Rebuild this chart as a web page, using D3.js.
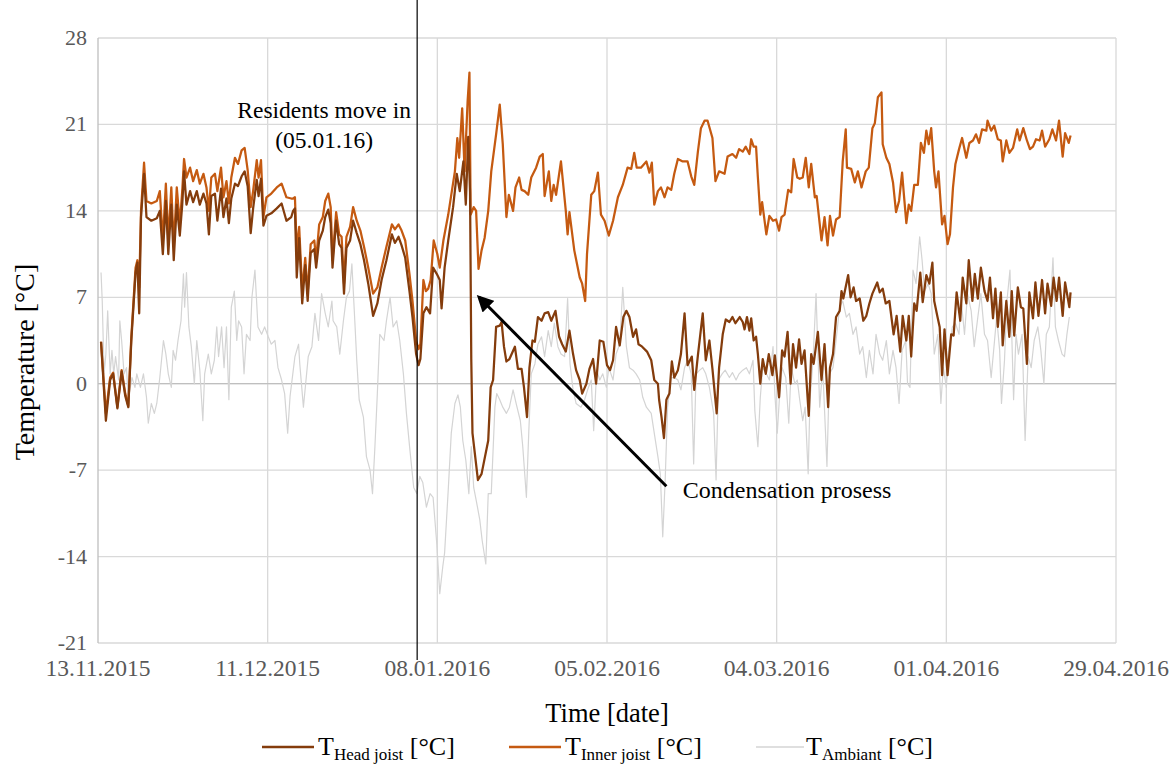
<!DOCTYPE html>
<html>
<head>
<meta charset="utf-8">
<script src="https://cdn.jsdelivr.net/npm/d3@7"></script>
<style>
  body { margin: 0; background: white; }
  text { font-family: "Liberation Serif", "Times New Roman", serif; }
</style>
</head>
<body>
<div id="container"></div>
<script>
let w = 1176;
let h = 765;

//x axis: one tick every 4 weeks
let xTickLabels = ["13.11.2015", "11.12.2015", "08.01.2016", "05.02.2016", "04.03.2016", "01.04.2016", "29.04.2016"];
let yTicks = [-21, -14, -7, 0, 7, 14, 21, 28];
let startLabel = "13.11.2015"; //day 0 of the series below
let moveInLabel = "05.01.2016";

//[days since 13.11.2015, temperature °C]
let headJoist = [
  [0.5,3.4],[1.3,-3.0],[2.0,0.3],[2.5,0.8],[3.2,-2.0],[3.9,1.0],[4.5,-1.0],[5.0,-1.9],[5.5,3.5],[6.2,9.0],
  [6.5,9.8],[6.8,5.7],[7.1,13.5],[7.6,17.0],[8.0,13.5],[8.8,13.2],[9.7,13.4],[10.2,14.0],[10.7,10.5],[11.2,14.8],
  [11.6,10.5],[12.1,14.5],[12.5,10.0],[13.0,14.5],[13.5,12.0],[13.9,14.5],[14.2,17.2],[14.6,14.5],[15.2,15.6],[15.7,14.7],
  [16.3,15.6],[16.8,14.5],[17.4,15.4],[17.9,14.6],[18.3,12.1],[18.7,15.2],[19.3,15.4],[19.7,13.2],[20.3,15.8],[20.7,13.5],
  [21.2,15.0],[21.6,13.0],[22.0,15.0],[22.6,16.2],[23.1,16.0],[23.7,16.8],[24.2,17.2],[24.7,16.0],[25.2,12.2],[25.6,14.2],
  [26.2,16.5],[26.5,15.2],[26.9,16.6],[27.3,12.8],[27.8,13.6],[28.6,13.8],[29.5,14.2],[30.3,14.6],[31.1,13.2],[31.9,13.5],
  [32.2,14.0],[32.5,14.2],[32.8,8.6],[33.2,11.8],[33.7,6.5],[34.2,9.6],[34.6,6.7],[35.1,10.6],[35.7,10.9],[36.0,9.4],
  [36.5,11.6],[37.1,12.4],[37.5,13.5],[38.0,14.1],[38.4,13.0],[38.7,9.4],[39.3,13.2],[39.8,11.3],[40.2,11.0],[40.6,7.3],
  [41.0,11.0],[41.6,11.6],[42.1,13.2],[42.7,12.2],[43.3,11.3],[43.9,10.0],[44.6,8.1],[45.4,5.5],[46.1,6.5],[46.8,8.4],
  [47.6,10.0],[48.5,12.1],[49.0,11.4],[49.6,11.9],[50.1,11.2],[50.7,10.2],[51.4,7.5],[51.9,5.4],[52.5,2.4],[52.9,1.5],
  [53.2,2.0],[53.7,5.7],[54.2,6.2],[54.8,5.7],[55.3,9.4],[55.9,8.9],[56.4,8.4],[56.7,6.1],[57.2,9.4],[57.8,11.6],
  [58.6,14.3],[59.2,17.0],[59.7,15.6],[60.3,18.0],[60.7,14.5],[61.1,20.0],[61.4,15.5],[61.6,2.0],[61.8,-4.0],[62.7,-7.8],
  [63.3,-7.3],[64.4,-4.6],[64.8,-0.3],[65.2,0.3],[65.7,4.6],[66.3,4.7],[66.6,5.0],[67.0,3.0],[67.4,1.8],[67.9,2.0],
  [68.8,3.0],[69.3,1.2],[69.9,1.2],[70.3,-0.3],[70.8,-2.7],[71.2,1.3],[71.7,3.5],[72.1,3.4],[72.6,5.4],[73.2,5.1],
  [73.7,5.7],[74.3,5.8],[74.8,5.1],[75.5,5.9],[76.1,3.8],[76.6,3.2],[77.2,2.6],[77.8,4.3],[78.4,2.4],[78.9,1.1],
  [79.5,0.3],[79.9,-0.8],[80.6,0.0],[81.1,1.2],[81.7,2.0],[82.2,0.0],[82.8,3.5],[83.4,3.4],[84.0,1.5],[84.5,1.1],
  [85.0,1.9],[85.5,4.6],[86.1,3.1],[86.7,5.4],[87.2,5.9],[87.7,5.4],[88.3,3.8],[88.8,4.4],[89.2,3.2],[89.8,3.0],
  [90.6,2.6],[91.3,1.9],[91.8,0.3],[92.4,0.0],[92.6,-1.3],[93.0,-2.7],[93.4,-4.4],[93.8,-1.3],[94.3,-0.8],[94.7,1.8],
  [95.1,0.5],[95.7,1.1],[96.2,2.4],[96.8,5.7],[97.3,1.5],[98.0,2.2],[98.4,-0.5],[99.0,2.3],[99.8,5.7],[100.3,1.9],
  [100.9,3.5],[101.4,1.2],[102.1,-2.4],[102.5,1.3],[103.1,4.0],[103.6,5.2],[104.2,5.0],[104.7,5.4],[105.2,4.9],[105.9,5.4],
  [106.4,5.0],[106.7,4.4],[107.1,5.4],[107.5,4.3],[107.8,5.3],[108.2,3.5],[108.6,3.8],[108.9,2.4],[109.3,0.0],[109.7,2.0],
  [110.2,0.8],[110.7,2.4],[111.3,0.7],[111.7,2.3],[112.4,-1.1],[112.9,2.7],[113.3,2.2],[113.8,4.2],[114.3,0.0],[114.7,3.2],
  [115.2,1.3],[115.7,3.6],[116.1,1.6],[116.6,2.7],[117.3,-2.6],[117.7,2.4],[118.1,1.6],[118.8,4.2],[119.4,0.3],[119.9,3.2],
  [120.5,-1.9],[120.8,1.3],[121.3,2.4],[121.8,5.4],[122.4,5.9],[122.7,7.5],[123.0,6.9],[123.8,8.8],[124.2,7.0],[124.7,7.8],
  [125.1,6.7],[125.7,6.9],[126.3,5.1],[126.8,5.5],[127.3,6.5],[127.8,7.3],[128.6,8.2],[129.0,7.4],[129.5,7.7],[130.0,6.5],
  [130.6,6.7],[131.3,4.0],[131.8,5.5],[132.4,2.6],[132.8,5.5],[133.4,3.5],[133.8,5.5],[134.2,2.2],[134.7,6.5],[135.1,5.9],
  [135.7,9.0],[136.1,6.6],[136.7,8.8],[137.2,8.1],[137.7,9.8],[138.0,6.7],[138.5,5.5],[138.9,4.6],[139.3,0.7],[139.7,4.4],
  [140.2,0.7],[140.8,4.0],[141.2,3.9],[141.7,7.4],[142.3,5.1],[142.7,8.6],[143.3,6.5],[143.7,10.0],[144.3,6.7],[144.7,8.9],
  [145.2,6.9],[145.7,9.4],[146.3,7.5],[146.8,6.7],[147.2,8.6],[147.7,5.3],[148.1,7.7],[148.5,4.6],[149.0,7.4],[149.3,3.1],
  [149.9,6.7],[150.4,3.8],[150.8,7.5],[151.2,3.9],[151.8,7.8],[152.3,6.2],[152.7,6.1],[153.3,1.6],[153.7,7.4],[154.3,5.3],
  [154.7,8.2],[155.2,5.5],[155.8,8.4],[156.3,5.7],[156.7,8.1],[157.3,6.3],[157.7,8.6],[158.2,6.7],[158.6,8.6],[159.2,5.5],
  [159.6,8.2],[160.3,6.2],[160.5,7.4]
];

let innerJoist = [
  [0.5,3.4],[1.3,-2.4],[2.0,0.5],[2.5,0.9],[3.2,-1.9],[3.9,1.1],[4.5,-0.8],[5.0,-1.8],[5.5,3.8],[6.2,9.4],
  [6.5,10.0],[6.8,7.8],[7.1,14.0],[7.6,17.9],[8.0,14.8],[8.8,14.6],[9.7,14.8],[10.2,15.6],[10.7,11.6],[11.2,16.2],
  [11.6,11.6],[12.1,15.9],[12.5,11.1],[13.0,15.9],[13.5,12.9],[13.9,15.6],[14.2,18.2],[14.6,16.7],[15.2,17.5],[15.7,16.4],
  [16.3,17.3],[16.8,16.2],[17.4,17.0],[17.9,15.9],[18.3,14.0],[18.7,16.7],[19.3,17.0],[19.7,15.6],[20.3,17.5],[20.7,15.1],
  [21.2,16.4],[21.6,14.6],[22.0,16.7],[22.6,18.3],[23.1,17.8],[23.7,18.9],[24.2,19.1],[24.7,17.3],[25.2,14.3],[25.6,15.6],
  [26.2,18.1],[26.5,16.7],[26.9,18.1],[27.3,13.5],[27.8,15.1],[28.6,15.4],[29.5,15.9],[30.3,16.2],[31.1,15.1],[31.9,15.0],
  [32.2,15.0],[32.5,15.1],[32.8,10.8],[33.2,12.7],[33.7,7.5],[34.2,10.2],[34.6,7.3],[35.1,11.3],[35.7,11.6],[36.0,10.0],
  [36.5,12.9],[37.1,13.5],[37.5,14.8],[38.0,15.4],[38.4,14.3],[38.7,10.0],[39.3,13.9],[39.8,12.1],[40.2,11.9],[40.6,8.1],
  [41.0,11.9],[41.6,12.7],[42.1,14.3],[42.7,13.2],[43.3,12.4],[43.9,11.1],[44.6,9.4],[45.4,7.3],[46.1,7.8],[46.8,9.4],
  [47.6,11.1],[48.5,12.9],[49.0,12.5],[49.6,12.9],[50.1,12.4],[50.7,11.6],[51.4,8.9],[51.9,6.7],[52.5,3.5],[52.9,2.8],
  [53.2,3.2],[53.7,8.4],[54.1,7.5],[54.5,7.7],[54.9,8.4],[55.4,11.6],[56.0,10.5],[56.4,9.4],[57.0,11.6],[57.8,13.7],
  [58.3,15.3],[58.9,17.2],[59.3,19.9],[59.6,18.3],[60.1,22.3],[60.5,17.2],[61.0,22.9],[61.3,25.2],[61.5,13.7],[62.0,14.3],
  [62.4,14.0],[62.8,9.3],[63.3,10.8],[63.8,11.8],[64.4,14.0],[64.9,17.2],[65.7,20.2],[66.3,22.6],[66.8,19.4],[67.4,13.5],
  [67.8,15.3],[68.5,14.0],[68.9,15.9],[69.5,16.7],[69.9,15.7],[70.4,15.6],[71.0,15.3],[71.5,16.7],[72.3,17.5],[72.9,18.4],
  [73.4,18.6],[73.7,15.2],[74.4,17.2],[74.8,14.8],[75.2,16.1],[75.6,15.3],[76.4,18.0],[77.2,14.0],[77.5,12.1],[77.8,13.9],
  [78.6,10.8],[79.5,8.6],[79.9,8.1],[80.4,6.7],[80.7,10.5],[81.4,15.3],[81.9,15.6],[82.5,17.1],[83.0,13.7],[83.6,13.2],
  [84.3,12.0],[85.0,13.2],[85.8,15.1],[86.6,16.1],[87.4,17.5],[88.0,17.4],[88.5,18.7],[88.9,17.5],[89.6,17.5],[90.5,18.0],
  [91.0,17.1],[91.4,17.9],[91.8,14.5],[92.4,15.6],[92.9,15.9],[93.5,15.1],[94.0,15.9],[94.6,15.7],[95.1,17.0],[95.7,18.2],
  [96.5,18.0],[97.3,18.0],[97.9,16.8],[98.4,16.1],[99.0,18.8],[99.5,20.7],[100.1,21.3],[100.6,21.3],[101.4,19.9],[101.9,16.4],
  [102.5,17.2],[103.4,17.0],[103.9,18.4],[104.7,18.6],[105.3,18.3],[105.8,19.0],[106.4,18.8],[106.9,19.2],[107.5,18.6],[107.8,19.8],
  [108.2,19.2],[108.6,19.2],[108.9,16.7],[109.3,13.7],[109.6,14.7],[110.3,12.1],[110.8,13.6],[111.4,13.2],[111.9,13.3],[112.4,12.4],
  [112.8,13.5],[113.3,13.7],[113.9,15.7],[114.4,15.5],[114.8,18.2],[115.4,16.7],[115.8,16.6],[116.3,16.7],[116.8,18.3],[117.3,15.9],
  [117.7,17.8],[118.3,15.1],[118.6,15.2],[119.4,11.6],[119.9,13.5],[120.4,11.2],[120.8,13.6],[121.3,12.0],[121.8,13.3],[122.4,13.5],
  [122.9,18.0],[123.4,20.6],[123.6,17.5],[124.3,17.4],[124.9,16.3],[125.4,17.2],[126.0,15.9],[126.7,17.2],[127.2,17.5],[127.8,20.7],
  [128.2,21.1],[128.7,23.2],[129.3,23.6],[129.5,19.4],[130.1,18.3],[130.6,17.8],[131.2,16.3],[131.7,13.9],[132.2,14.8],[132.7,17.1],
  [133.0,15.3],[133.4,13.0],[133.8,14.5],[134.2,14.0],[134.7,16.1],[135.3,16.1],[135.8,19.5],[136.3,18.7],[136.7,20.5],[137.1,19.4],
  [137.5,20.7],[138.0,17.2],[138.3,15.9],[138.7,17.2],[139.3,12.9],[139.7,13.6],[140.2,11.3],[140.6,12.1],[141.1,15.9],[141.5,17.8],
  [142.1,19.0],[142.6,19.9],[143.3,18.3],[143.8,19.5],[144.4,19.7],[144.9,20.2],[145.4,19.5],[145.9,20.6],[146.6,20.5],[146.8,21.3],
  [147.4,20.5],[147.9,20.9],[148.5,19.8],[149.0,19.7],[149.3,18.0],[149.9,19.7],[150.4,18.7],[151.0,19.1],[151.7,20.6],[152.1,19.7],
  [152.7,20.7],[153.3,19.7],[153.8,19.0],[154.3,19.2],[154.8,19.8],[155.4,19.7],[155.8,20.5],[156.3,19.2],[157.0,19.8],[157.5,20.6],
  [158.1,19.7],[158.6,21.3],[159.2,18.4],[159.6,20.3],[160.2,19.5],[160.5,20.1]
];

let ambient = [
  [0.5,9.0],[0.7,6.7],[1.0,0.8],[1.3,2.4],[1.6,5.9],[2.0,0.8],[2.3,2.7],[2.6,0.8],[2.9,2.2],[3.4,0.3],
  [3.6,5.1],[3.9,3.5],[4.3,0.8],[4.7,1.3],[5.0,-1.3],[5.6,0.5],[6.1,-0.3],[6.4,0.8],[7.0,-0.3],[7.5,0.8],
  [8.0,-1.1],[8.3,-3.2],[8.8,-1.6],[9.3,-2.4],[9.7,-1.6],[10.2,0.5],[10.8,3.5],[11.2,2.4],[11.6,0.8],[12.1,-0.3],
  [12.4,2.7],[12.8,1.9],[13.2,3.5],[13.7,5.1],[14.1,8.9],[14.3,6.2],[14.6,9.0],[15.0,4.6],[15.4,3.0],[15.9,0.0],
  [16.3,3.5],[16.8,1.1],[17.3,-3.0],[17.6,0.8],[18.2,2.4],[18.7,0.8],[19.2,1.9],[19.6,4.6],[19.9,2.2],[20.4,4.6],
  [20.8,1.3],[21.2,4.6],[21.6,-1.3],[22.0,6.2],[22.5,7.5],[22.9,3.5],[23.2,5.1],[23.7,4.6],[24.1,0.8],[24.5,4.0],
  [25.1,3.5],[25.4,7.0],[25.9,9.2],[26.4,4.6],[27.0,4.0],[27.5,4.6],[28.1,3.8],[28.6,3.2],[29.2,3.5],[29.7,1.3],
  [30.3,0.3],[30.8,-0.8],[31.3,-4.0],[31.7,-1.0],[32.5,2.2],[33.1,3.2],[33.3,1.6],[33.9,-1.9],[34.7,2.2],[35.3,3.0],
  [35.8,5.7],[36.4,3.5],[36.9,7.3],[37.5,5.7],[38.0,4.6],[38.6,6.7],[38.8,5.1],[39.4,4.6],[39.9,2.4],[40.5,5.1],
  [41.0,7.0],[41.5,7.5],[41.9,9.7],[42.4,4.9],[42.7,1.9],[43.1,-1.3],[43.8,-2.7],[44.3,-5.9],[44.9,-7.0],[45.3,-8.9],
  [45.7,-5.1],[46.1,-0.8],[46.5,4.0],[47.2,3.5],[47.6,5.1],[48.2,7.0],[48.7,4.6],[49.3,5.1],[49.8,3.5],[50.4,0.8],
  [50.9,-2.4],[51.5,-5.5],[52.1,-8.4],[52.6,-8.9],[53.1,-7.5],[53.6,-8.0],[54.2,-10.0],[54.8,-8.9],[55.3,-9.2],[55.9,-12.9],
  [56.4,-17.0],[56.9,-14.8],[57.2,-13.7],[57.8,-8.6],[58.3,-4.0],[58.9,-1.6],[59.4,-0.9],[59.8,-1.9],[60.2,-4.6],[60.7,-6.2],
  [61.2,-8.9],[61.6,-5.1],[62.0,-8.4],[62.4,-9.4],[63.0,-11.0],[63.4,-12.7],[64.0,-14.6],[64.4,-8.9],[64.9,-8.9],[65.5,-1.9],
  [65.8,-0.8],[66.3,-1.3],[66.8,-1.9],[67.4,-2.4],[67.9,-1.9],[68.5,-0.5],[69.0,-1.6],[69.7,-3.0],[70.1,-5.1],[70.7,-9.2],
  [71.1,-3.8],[71.5,0.8],[72.1,1.6],[72.6,3.2],[73.2,3.8],[73.7,2.2],[74.3,4.3],[74.8,3.0],[75.3,4.9],[75.9,3.0],
  [76.4,2.4],[77.0,2.2],[77.5,6.9],[77.9,1.6],[78.4,-0.5],[78.9,-1.6],[79.7,-1.9],[80.3,-1.3],[80.8,-0.5],[81.4,0.3],
  [81.8,-3.8],[82.3,1.1],[82.8,0.3],[83.3,0.8],[83.9,-0.3],[84.3,1.3],[85.0,0.3],[85.5,2.4],[86.1,3.2],[86.6,7.8],
  [87.2,3.0],[87.7,1.3],[88.3,1.1],[88.8,0.8],[89.4,0.3],[89.9,-1.1],[90.5,-1.9],[91.3,-2.4],[91.8,-4.0],[92.4,-5.9],
  [92.8,-7.3],[93.2,-12.4],[93.6,-7.8],[94.0,-1.9],[94.6,0.5],[95.1,0.5],[95.7,0.3],[96.2,-0.5],[96.8,1.3],[97.3,1.9],
  [97.9,0.8],[98.3,-6.5],[98.7,0.8],[99.3,1.1],[99.8,1.3],[100.3,0.8],[100.9,-0.3],[101.6,-2.4],[102.0,-7.8],[102.4,0.3],
  [103.0,0.8],[103.5,1.1],[104.2,0.5],[104.7,0.9],[105.3,0.3],[105.8,0.8],[106.4,1.1],[107.0,1.3],[107.5,0.8],[108.1,1.9],
  [108.4,-2.2],[108.9,-5.1],[109.3,-1.1],[109.7,1.3],[110.3,0.8],[110.8,0.3],[111.4,3.0],[111.7,-0.8],[112.1,-4.0],[112.5,-0.8],
  [112.9,1.3],[113.5,0.5],[114.0,-3.2],[114.4,1.3],[115.0,0.0],[115.4,0.3],[115.8,-1.3],[116.3,-3.0],[116.7,-1.9],[117.2,-7.3],
  [117.5,-1.3],[118.0,1.9],[118.5,7.3],[119.1,-1.9],[119.6,1.3],[120.3,-6.7],[120.7,0.8],[121.3,1.3],[121.8,3.5],[122.4,6.2],
  [122.9,6.7],[123.5,5.4],[124.0,5.7],[124.6,4.0],[125.1,4.6],[125.7,2.4],[126.2,3.0],[126.8,0.5],[127.3,2.7],[127.9,0.8],
  [128.4,4.0],[129.0,2.4],[129.5,1.9],[130.1,3.5],[130.6,0.8],[131.2,2.7],[131.7,1.3],[132.2,-1.6],[132.7,2.7],[133.3,3.5],
  [133.6,0.0],[134.0,-0.3],[134.5,9.2],[135.0,8.1],[135.6,11.9],[136.0,10.0],[136.4,7.5],[137.0,8.1],[137.5,7.3],[138.0,2.4],
  [138.6,4.0],[139.1,-1.6],[139.5,1.3],[140.0,-0.3],[140.4,2.7],[141.0,4.6],[141.5,4.9],[142.1,4.0],[142.4,7.0],[143.0,4.0],
  [143.5,7.3],[144.1,5.9],[144.6,3.0],[145.2,5.4],[145.7,7.3],[146.3,4.0],[146.8,3.5],[147.4,0.5],[147.9,3.2],[148.3,5.4],
  [148.8,2.7],[149.1,-1.6],[149.6,1.9],[150.0,6.7],[150.5,9.2],[151.1,-1.3],[151.5,4.0],[151.9,2.4],[152.5,4.0],[153.0,-4.6],
  [153.5,2.2],[154.0,1.3],[154.5,3.5],[155.1,4.6],[155.6,2.7],[156.1,0.0],[156.5,4.0],[157.0,4.6],[157.6,10.2],[158.0,4.6],
  [158.5,3.5],[159.1,2.4],[159.5,2.2],[159.9,4.0],[160.3,5.4]
];

let seriesNames = ["Head joist", "Inner joist", "Ambiant"];
let seriesColors = ["#843c0c", "#c55a11", "#d4d4d4"];
let seriesWidths = [2.25, 2.25, 1.2];

let parseDate = d3.timeParse("%d.%m.%Y");
let startDate = parseDate(startLabel);
let xTickDates = xTickLabels.map(parseDate);

function dayToDate(d){
  return new Date(startDate.getTime() + d * 864e5);
}

let viz = d3.select("#container")
  .append("svg")
    .attr("width", w)
    .attr("height", h)
    .style("background-color", "white")
;

let x = d3.scaleTime()
  .domain([xTickDates[0], xTickDates[xTickDates.length - 1]])
  .range([98, 1116])
;
let y = d3.scaleLinear()
  .domain([-21, 28])
  .range([643, 38])
;

//gridlines
viz.selectAll(".hgrid").data(yTicks).enter()
  .append("line")
    .attr("class", "hgrid")
    .attr("x1", x.range()[0])
    .attr("x2", x.range()[1])
    .attr("y1", d => y(d))
    .attr("y2", d => y(d))
    .style("stroke", "#d9d9d9")
    .style("stroke-width", 1.3)
;
viz.selectAll(".vgrid").data(xTickDates.slice(1)).enter()
  .append("line")
    .attr("class", "vgrid")
    .attr("x1", d => x(d))
    .attr("x2", d => x(d))
    .attr("y1", y(28))
    .attr("y2", y(-21))
    .style("stroke", "#d9d9d9")
    .style("stroke-width", 1.3)
;
//axis lines
viz.append("line")
  .attr("x1", x.range()[0]).attr("x2", x.range()[0])
  .attr("y1", y(28)).attr("y2", y(-21))
  .style("stroke", "#bfbfbf")
  .style("stroke-width", 1.3)
;
viz.append("line")
  .attr("x1", x.range()[0]).attr("x2", x.range()[1])
  .attr("y1", y(0)).attr("y2", y(0))
  .style("stroke", "#bfbfbf")
  .style("stroke-width", 1.3)
;

//tick labels
viz.selectAll(".ylab").data(yTicks).enter()
  .append("text")
    .attr("class", "ylab")
    .text(d => d)
    .attr("x", 87)
    .attr("y", d => y(d) + 7)
    .attr("text-anchor", "end")
    .style("fill", "#595959")
    .style("font-size", "22px")
;
viz.selectAll(".xlab").data(xTickDates).enter()
  .append("text")
    .attr("class", "xlab")
    .text((d, i) => xTickLabels[i])
    .attr("x", d => x(d))
    .attr("y", 676)
    .attr("text-anchor", "middle")
    .style("fill", "#595959")
    .style("font-size", "23.5px")
;

//axis titles
viz.append("text")
  .text("Time [date]")
  .attr("x", (x.range()[0] + x.range()[1]) / 2)
  .attr("y", 722)
  .attr("text-anchor", "middle")
  .style("font-size", "26.5px")
;
viz.append("text")
  .text("Temperature [°C]")
  .attr("transform", "translate(34,362) rotate(-90)")
  .attr("text-anchor", "middle")
  .style("font-size", "28px")
;

//series: ambient underneath, head joist on top
let line = d3.line()
  .x(d => x(dayToDate(d[0])))
  .y(d => y(d[1]))
;
let allSeries = [headJoist, innerJoist, ambient];
[2, 1, 0].forEach(function(i){
  viz.append("path")
    .attr("d", line(allSeries[i]))
    .attr("fill", "none")
    .style("stroke", seriesColors[i])
    .style("stroke-width", seriesWidths[i])
    .style("stroke-linejoin", "round")
  ;
});

//residents move in
let moveIn = parseDate(moveInLabel);
let moveInX = x(moveIn) - 2;
viz.append("line")
  .attr("x1", moveInX).attr("x2", moveInX)
  .attr("y1", 0).attr("y2", 660)
  .style("stroke", "black")
  .style("stroke-width", 1.2)
;
viz.append("text")
  .text("Residents move in")
  .attr("x", moveInX - 93)
  .attr("y", 118)
  .attr("text-anchor", "middle")
  .style("font-size", "23.5px")
;
viz.append("text")
  .text("(05.01.16)")
  .attr("x", moveInX - 93)
  .attr("y", 148)
  .attr("text-anchor", "middle")
  .style("font-size", "23.5px")
;

//condensation arrow
viz.append("defs")
  .append("marker")
    .attr("id", "head")
    .attr("viewBox", "0 0 10 10")
    .attr("refX", 8)
    .attr("refY", 5)
    .attr("markerWidth", 5.5)
    .attr("markerHeight", 5.5)
    .attr("orient", "auto")
  .append("path")
    .attr("d", "M 0 0 L 10 5 L 0 10 z")
    .style("fill", "black")
;
viz.append("line")
  .attr("x1", x(dayToDate(93.8)))
  .attr("y1", y(-8.3))
  .attr("x2", x(dayToDate(62.9)))
  .attr("y2", y(7.0))
  .style("stroke", "black")
  .style("stroke-width", 3)
  .attr("marker-end", "url(#head)")
;
viz.append("text")
  .text("Condensation prosess")
  .attr("x", x(dayToDate(96.5)))
  .attr("y", 498)
  .style("font-size", "24px")
;

//legend
let legendX = [262, 509, 756];
let legendGroups = viz.selectAll(".legend").data(seriesNames).enter()
  .append("g")
    .attr("class", "legend")
    .attr("transform", (d, i) => "translate(" + legendX[i] + ", 747)")
;
legendGroups.append("line")
  .attr("x1", 0)
  .attr("x2", (d, i) => i == 2 ? 48 : 52)
  .attr("y1", 0)
  .attr("y2", 0)
  .style("stroke", (d, i) => seriesColors[i])
  .style("stroke-width", (d, i) => i == 2 ? 1.5 : 2.5)
;
let legendText = legendGroups.append("text")
  .attr("x", (d, i) => i == 2 ? 50 : 56)
  .attr("y", 8)
  .style("font-size", "26px")
;
legendText.append("tspan").text("T");
legendText.append("tspan")
  .text(d => d)
  .attr("dy", 5)
  .style("font-size", "17px")
;
legendText.append("tspan")
  .text(" [°C]")
  .attr("dy", -5)
;
</script>
</body>
</html>
